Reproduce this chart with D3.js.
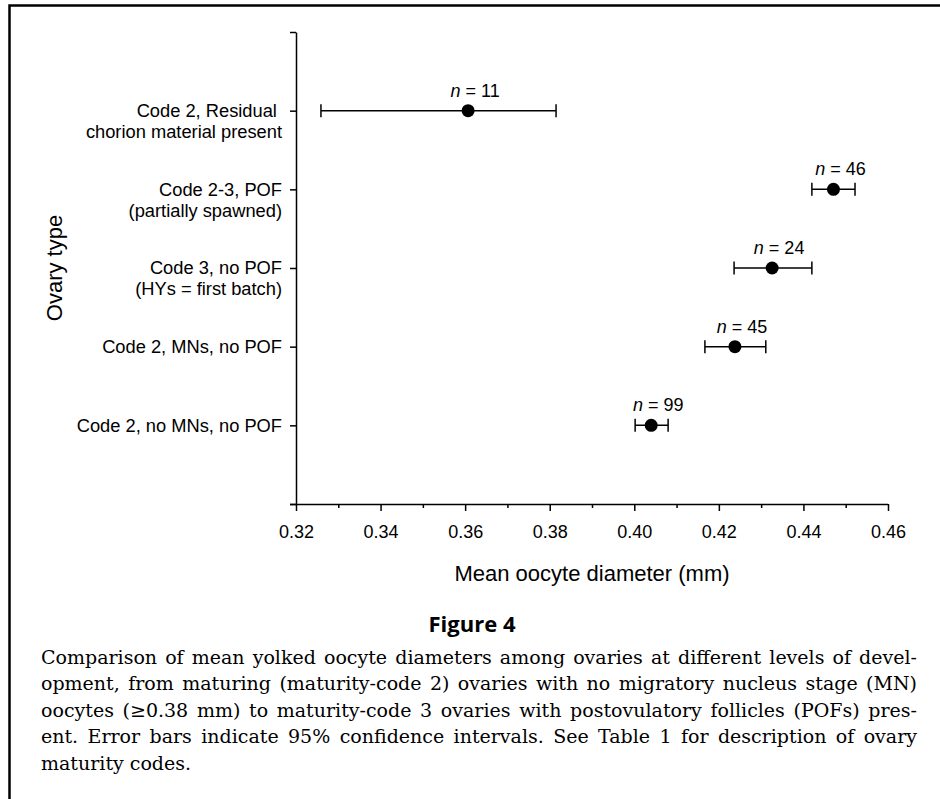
<!DOCTYPE html>
<html>
<head>
<meta charset="utf-8">
<script src="https://cdn.jsdelivr.net/npm/d3@7/dist/d3.min.js"></script>
<style>
  html, body { margin: 0; padding: 0; background: #fff; }
  svg { display: block; }
  .axis path, .axis line { stroke: #000; stroke-width: 1.5px; }
  .axis text { font-family: "Liberation Sans", Arial, sans-serif; font-size: 18px; fill: #000; }
</style>
</head>
<body>
<svg id="chart" width="940" height="799"></svg>
<script>
// ---------- data ----------
const categories = [
  ["Code 2, no MNs, no POF"],
  ["Code 2, MNs, no POF"],
  ["Code 3, no POF", "(HYs = first batch)"],
  ["Code 2-3, POF", "(partially spawned)"],
  ["Code 2, Residual ", "chorion material present"]
];
const means = [0.4040, 0.4238, 0.4326, 0.4471, 0.3607];
const lowerCI = [0.4002, 0.4167, 0.4236, 0.4420, 0.3259];
const upperCI = [0.4080, 0.4311, 0.4420, 0.4522, 0.3815];
const sampleSizes = [99, 45, 24, 46, 11];
const xTickValues = [0.32, 0.34, 0.36, 0.38, 0.40, 0.42, 0.44, 0.46];
const xMinorTickValues = [0.33, 0.35, 0.37, 0.39, 0.41, 0.43, 0.45];
const xTitle = "Mean oocyte diameter (mm)";
const yTitle = "Ovary type";
const figureTitle = "Figure 4";
const captionLines = [
  "Comparison of mean yolked oocyte diameters among ovaries at different levels of devel-",
  "opment, from maturing (maturity-code 2) ovaries with no migratory nucleus stage (MN)",
  "oocytes (\u22650.38 mm) to maturity-code 3 ovaries with postovulatory follicles (POFs) pres-",
  "ent. Error bars indicate 95% confidence intervals. See Table 1 for description of ovary",
  "maturity codes."
];

// ---------- layout ----------
const svg = d3.select("#chart");
const plot = { left: 296, right: 888, top: 32, bottom: 504 };
const sans = '"Liberation Sans", Arial, sans-serif';

// frame
svg.append("path")
  .attr("d", `M9.5,${799 + 5} V5.5 H${940 + 5}`)
  .attr("fill", "none").attr("stroke", "#000").attr("stroke-width", 2.5);

const x = d3.scaleLinear().domain([0.32, 0.46]).range([plot.left, plot.right]);
const y = d3.scaleLinear().domain([-1, 5]).range([plot.bottom, plot.top]);

// x axis minor ticks
svg.append("g").attr("class", "axis")
  .attr("transform", `translate(0,${plot.bottom})`)
  .call(d3.axisBottom(x).tickValues(xMinorTickValues).tickSize(4).tickFormat(""))
  .call(g => g.select(".domain").remove());

// x axis major
svg.append("g").attr("class", "axis")
  .attr("transform", `translate(0,${plot.bottom})`)
  .call(d3.axisBottom(x).tickValues(xTickValues).tickSize(7).tickSizeOuter(0).tickPadding(14)
    .tickFormat(d3.format(".2f")))
  .call(g => g.select(".domain").attr("d", `M${plot.left - 6},0.5H${plot.right}`));

// y axis
const yTicks = d3.range(-1, 6);
svg.append("g").attr("class", "axis")
  .attr("transform", `translate(${plot.left},0)`)
  .call(d3.axisLeft(y).tickValues(yTicks).tickSize(6).tickSizeOuter(0).tickFormat(""));

// category labels (multi-line)
const lineGap = 21;
const catG = svg.append("g").attr("font-family", sans).attr("font-size", 18.3).attr("fill", "#000");
categories.forEach((lines, i) => {
  const t = catG.append("text")
    .attr("text-anchor", "end")
    .attr("x", plot.left - 14)
    .attr("y", y(i))
    .style("white-space", "pre");
  lines.forEach((ln, j) => {
    t.append("tspan").attr("x", plot.left - 14).attr("dy", j === 0 ? "0.35em" : lineGap).text(ln);
  });
});

// error bars
const capH = 6.5;
const eb = svg.append("g").attr("stroke", "#000").attr("stroke-width", 1.5);
means.forEach((m, i) => {
  const cy = y(i);
  eb.append("line").attr("x1", x(lowerCI[i])).attr("x2", x(upperCI[i])).attr("y1", cy).attr("y2", cy);
  eb.append("line").attr("x1", x(lowerCI[i])).attr("x2", x(lowerCI[i])).attr("y1", cy - capH).attr("y2", cy + capH);
  eb.append("line").attr("x1", x(upperCI[i])).attr("x2", x(upperCI[i])).attr("y1", cy - capH).attr("y2", cy + capH);
});

// points
svg.append("g").selectAll("circle").data(means).join("circle")
  .attr("cx", d => x(d)).attr("cy", (d, i) => y(i)).attr("r", 6.5).attr("fill", "#000");

// n labels
const nG = svg.append("g").attr("font-family", sans).attr("font-size", 18).attr("fill", "#000");
means.forEach((m, i) => {
  const t = nG.append("text").attr("x", x(m) + 7).attr("y", y(i) - 14).attr("text-anchor", "middle");
  t.append("tspan").attr("font-style", "italic").text("n");
  t.append("tspan").text(" = " + sampleSizes[i]);
});

// axis titles
svg.append("text").attr("x", (plot.left + plot.right) / 2).attr("y", 581)
  .attr("text-anchor", "middle").attr("font-family", sans).attr("font-size", 22).text(xTitle);
svg.append("text").attr("transform", `translate(62,${268}) rotate(-90)`)
  .attr("text-anchor", "middle").attr("font-family", sans).attr("font-size", 22).text(yTitle);

// figure title
svg.append("text").attr("x", 472).attr("y", 632).attr("text-anchor", "middle")
  .attr("font-family", '"Open Sans", "Liberation Sans", sans-serif').attr("font-weight", 700)
  .attr("font-size", 22).text(figureTitle);

// caption, justified
const capLeft = 41, capRight = 917, capTop = 664, capStep = 26.4;
const capG = svg.append("g").attr("font-family", '"DejaVu Serif", serif').attr("font-size", 19).attr("fill", "#000");
captionLines.forEach((ln, i) => {
  const t = capG.append("text").attr("x", capLeft).attr("y", capTop + i * capStep).text(ln);
  if (i < captionLines.length - 1) {
    const L = t.node().getComputedTextLength();
    const k = (ln.match(/ /g) || []).length;
    const ws = (capRight - capLeft - L) / k;
    if (ws >= -1) {
      t.attr("word-spacing", ws);
    } else {
      t.attr("textLength", capRight - capLeft).attr("lengthAdjust", "spacingAndGlyphs");
    }
  }
});
</script>
</body>
</html>
